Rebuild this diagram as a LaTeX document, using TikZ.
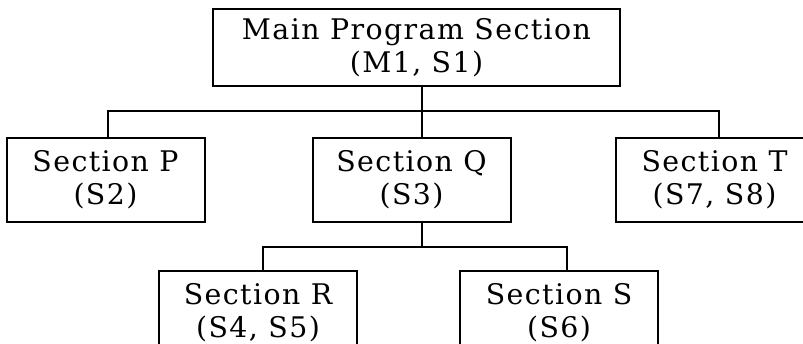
\documentclass[tikz,border=0pt]{standalone}
\usepackage{fontspec}
\setmainfont{DejaVu Serif}[LetterSpace=5]
\usetikzlibrary{positioning}

\begin{document}
\begin{tikzpicture}[
    node distance=25pt and 53pt,
    sect/.style={
        rectangle, draw, line width=1pt,
        align=center, minimum height=42pt, minimum width=99pt,
        inner sep=0pt, font=\fontsize{14.2pt}{16.4pt}\selectfont
    },
    link/.style={line width=1pt},
]
\useasboundingbox (0,0) rectangle (401.5pt,-171.5pt);
\clip (0,0) rectangle (401.5pt,-171.5pt);

%% Top: main program
\node[sect, minimum width=203.5pt, minimum height=38.5pt] (main) at (208.25pt,-23.75pt)
    {Main Program Section\\(M1, S1)};

%% Row 2: sections called from main
\node[sect, below=25pt of main, xshift=-2.5pt] (q) {Section Q\\(S3)};
\node[sect, left=53pt of q]  (p) {Section P\\(S2)};
\node[sect, right=51.5pt of q] (t) {Section T\\(S7, S8)};

%% Row 3: sections called from Q
\node[sect, below=23.5pt of q, xshift=-76.75pt] (r) {Section R\\(S4, S5)};
\node[sect, right=50.5pt of r] (s) {Section S\\(S6)};

%% Lines main -> row 2
\coordinate (hub) at ([xshift=2.75pt]main.south);
\coordinate (bus) at ([yshift=-12pt]hub);
\draw[link] (hub) -- (hub |- q.north);
\draw[link] ([xshift=1.25pt]p.north) |- (bus) -| ([xshift=2.25pt]t.north);

%% Lines Q -> row 3
\coordinate (qhub) at (hub |- q.south);
\coordinate (sub) at ([yshift=-12pt]qhub);
\draw[link] (qhub) -- (sub);
\draw[link] ([xshift=2.5pt]r.north) |- (sub) -| ([xshift=4pt]s.north);

\end{tikzpicture}
\end{document}
